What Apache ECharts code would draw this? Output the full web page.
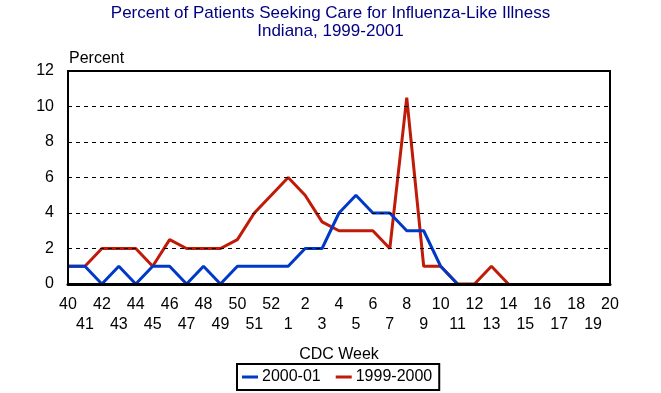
<!DOCTYPE html>
<html>
<head>
<meta charset="utf-8">
<script src="https://cdn.jsdelivr.net/npm/echarts@6/dist/echarts.min.js"></script>
<style>
html,body{margin:0;padding:0;background:#fff;}
#chart{width:661px;height:393px;}
</style>
</head>
<body>
<div id="chart"></div>
<script>
var weeks = ['40','41','42','43','44','45','46','47','48','49','50','51','52',
  '1','2','3','4','5','6','7','8','9','10','11','12','13','14','15','16','17','18','19','20'];
var season2000_01 = [1,1,0,1,0,1,1,0,1,0,1,1,1,1,2,2,4,5,4,4,3,3,1,0,
  null,null,null,null,null,null,null,null,null];
var season1999_2000 = [1,1,2,2,2,1,2.5,2,2,2,2.5,4,5,6,5,3.5,3,3,3,2,10.5,1,1,0,0,1,0,
  null,null,null,null,null,null];
var yTicks = [0,2,4,6,8,10,12];

var FONT = '"Liberation Sans", Arial, sans-serif';
var chart = echarts.init(document.getElementById('chart'), null, {renderer:'canvas'});
chart.setOption({
  animation: false,
  backgroundColor: '#fff',
  textStyle: {fontFamily: FONT},
  title: {
    text: 'Percent of Patients Seeking Care for Influenza-Like Illness\nIndiana, 1999-2001',
    left: 'center', top: 4, padding: 0,
    textStyle: {color: '#000080', fontSize: 17, fontWeight: 'normal', fontFamily: FONT, lineHeight: 18, align: 'center'}
  },
  legend: {
    data: ['2000-01','1999-2000'],
    left: 237, top: 364,
    orient: 'horizontal',
    icon: 'rect', itemWidth: 16, itemHeight: 3, itemGap: 15,
    borderColor: '#000', borderWidth: 2, padding: [5,7,5,5],
    textStyle: {color: '#000', fontSize: 16, fontFamily: FONT, padding: [0,0,0,-1]}
  },
  grid: {left: 68, right: 51, top: 71, bottom: 109, show: true, borderColor: '#000', borderWidth: 2, backgroundColor: 'transparent'},
  xAxis: {
    type: 'category', data: weeks, boundaryGap: false, z: 10,
    name: 'CDC Week', nameLocation: 'middle', nameGap: 63,
    nameTextStyle: {color: '#000', fontSize: 16, fontFamily: FONT},
    axisLine: {show: true, lineStyle: {color: '#000', width: 3}},
    axisTick: {show: false},
    axisLabel: {
      interval: 0, color: '#000', fontSize: 16, fontFamily: FONT, lineHeight: 20, margin: 11,
      formatter: function (v, i) { return (i % 2 === 1) ? '\n' + v : v; }
    },
    splitLine: {show: false}
  },
  yAxis: {
    type: 'value', min: 0, max: 12, interval: 2, z: 10,
    name: 'Percent', nameLocation: 'end', nameGap: 4,
    nameTextStyle: {color: '#000', fontSize: 16, fontFamily: FONT, align: 'left', padding: [0,0,0,1]},
    axisLine: {show: true, lineStyle: {color: '#000', width: 2}},
    axisTick: {show: false},
    axisLabel: {color: '#000', fontSize: 16, fontFamily: FONT, margin: 14,
      formatter: function (v) { return yTicks.indexOf(v) >= 0 ? String(v) : ''; }},
    splitLine: {show: true, lineStyle: {color: '#000', width: 1, type: [4,4]}}
  },
  series: [
    {name: '2000-01', type: 'line', data: season2000_01, showSymbol: false, symbol: 'none',
     lineStyle: {color: '#0038c8', width: 3}, itemStyle: {color: '#0038c8'}, z: 3, connectNulls: false},
    {name: '1999-2000', type: 'line', data: season1999_2000, showSymbol: false, symbol: 'none',
     lineStyle: {color: '#c01a08', width: 3}, itemStyle: {color: '#c01a08'}, z: 2, connectNulls: false}
  ]
});
</script>
</body>
</html>
